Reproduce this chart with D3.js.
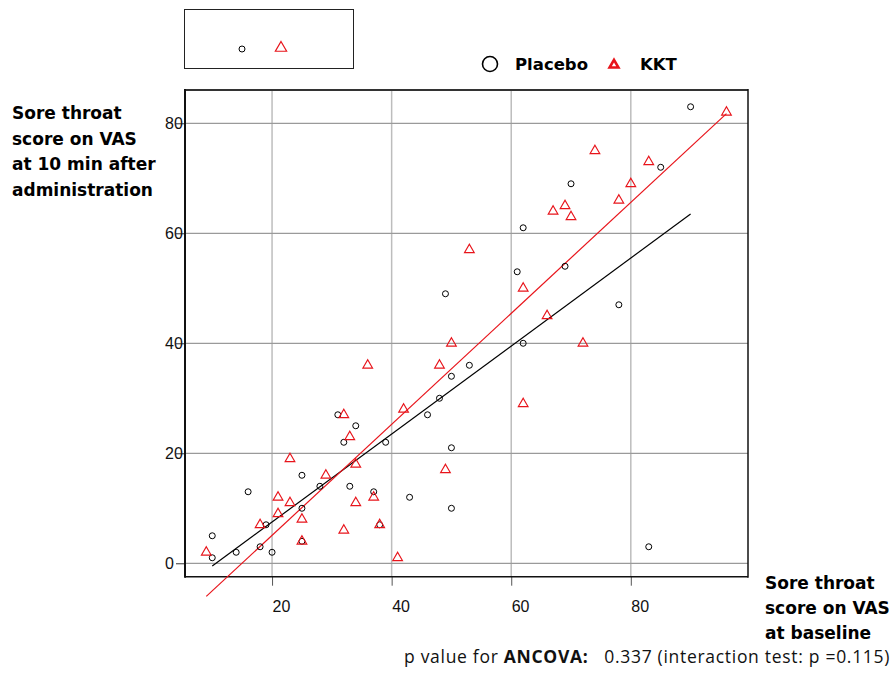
<!DOCTYPE html>
<html>
<head>
<meta charset="utf-8">
<script src="https://cdn.jsdelivr.net/npm/d3@7"></script>
<style>
  body { margin: 0; background: #fff; }
  svg { display: block; }
</style>
</head>
<body>
<script>
// Placebo: baseline VAS vs VAS at 10 min
var placeboX = [90, 85, 70, 62, 69, 61, 49, 78, 62, 53, 50, 48, 46, 50, 43, 50, 83, 31, 34, 32, 39, 25, 28, 33, 16, 37, 25, 19, 38, 10, 25, 18, 14, 20, 10];
var placeboY = [83, 72, 69, 61, 54, 53, 49, 47, 40, 36, 34, 30, 27, 21, 12, 10, 3, 27, 25, 22, 22, 16, 14, 14, 13, 13, 10, 7, 7, 5, 4, 3, 2, 2, 1];
// KKT
var kktX = [96, 74, 83, 80, 78, 67, 69, 70, 53, 62, 66, 50, 72, 48, 62, 49, 36, 42, 32, 33, 34, 23, 29, 37, 21, 23, 34, 21, 25, 18, 38, 32, 25, 9, 41];
var kktY = [82, 75, 73, 69, 66, 64, 65, 63, 57, 50, 45, 40, 40, 36, 29, 17, 36, 28, 27, 23, 18, 19, 16, 12, 12, 11, 11, 9, 8, 7, 7, 6, 4, 2, 1];
// fitted lines: [intercept, slope]
var placeboFit = [-8.5, 0.8];
var kktFit = [-15.1, 1.009];

var xTicks = [20, 40, 60, 80];
var yTicks = [0, 20, 40, 60, 80];

(function() {
    var RED = "#e8141b";

    var svg = d3.select("body").append("svg")
        .attr("width", 893)
        .attr("height", 675);

    svg.append("rect").attr("width", 893).attr("height", 675).attr("fill", "#fff");

    var plotLeft = 185, plotRight = 748, plotTop = 90, plotBottom = 576.7;

    var x = d3.scaleLinear().domain([5.44, 99.6]).range([plotLeft, plotRight]);
    var y = d3.scaleLinear().domain([-2.44, 86.05]).range([plotBottom, plotTop]);

    // grid
    svg.append("g").selectAll("line").data(xTicks).enter().append("line")
        .attr("x1", function(d) { return x(d); })
        .attr("x2", function(d) { return x(d); })
        .attr("y1", plotTop).attr("y2", plotBottom)
        .attr("stroke", "#bdbdbd").attr("stroke-width", 1.5);

    svg.append("g").selectAll("line").data(yTicks).enter().append("line")
        .attr("x1", plotLeft).attr("x2", plotRight)
        .attr("y1", function(d) { return y(d); })
        .attr("y2", function(d) { return y(d); })
        .attr("stroke", "#9a9a9a").attr("stroke-width", 1.2);

    // axes
    var xAxis = svg.append("g")
        .attr("transform", "translate(0," + plotBottom + ")")
        .call(d3.axisBottom(x).tickValues(xTicks).tickSize(9).tickSizeOuter(0));
    xAxis.select(".domain").remove();
    xAxis.selectAll("line").attr("stroke", "#555");
    xAxis.selectAll("text")
        .attr("text-anchor", "start")
        .attr("y", 24)
        .attr("font-family", "Liberation Sans, Arial, sans-serif")
        .attr("font-size", 16)
        .attr("fill", "#111");

    var yAxis = svg.append("g")
        .attr("transform", "translate(" + plotLeft + ",0)")
        .call(d3.axisLeft(y).tickValues(yTicks).tickSize(9).tickSizeOuter(0));
    yAxis.select(".domain").remove();
    yAxis.selectAll("line").attr("stroke", "#333");
    yAxis.selectAll("text")
        .attr("text-anchor", "start")
        .attr("x", -20)
        .attr("font-family", "Liberation Sans, Arial, sans-serif")
        .attr("font-size", 16)
        .attr("fill", "#111");

    // frame
    svg.append("line").attr("x1", plotLeft).attr("x2", plotRight).attr("y1", plotTop).attr("y2", plotTop)
        .attr("stroke", "#333").attr("stroke-width", 2.2);
    svg.append("line").attr("x1", plotLeft).attr("x2", plotLeft).attr("y1", plotTop - 1).attr("y2", plotBottom + 1)
        .attr("stroke", "#111").attr("stroke-width", 2);
    svg.append("line").attr("x1", plotRight).attr("x2", plotRight).attr("y1", plotTop - 1).attr("y2", plotBottom + 1)
        .attr("stroke", "#111").attr("stroke-width", 1.5);
    svg.append("line").attr("x1", plotLeft).attr("x2", plotRight).attr("y1", plotBottom).attr("y2", plotBottom)
        .attr("stroke", "#111").attr("stroke-width", 1.5);

    // regression lines
    function fitLine(xs, fit, color) {
        var x0 = d3.min(xs), x1 = d3.max(xs);
        svg.append("line")
            .attr("x1", x(x0)).attr("y1", y(fit[0] + fit[1] * x0))
            .attr("x2", x(x1)).attr("y2", y(fit[0] + fit[1] * x1))
            .attr("stroke", color).attr("stroke-width", 1.2);
    }
    fitLine(placeboX, placeboFit, "#000");
    fitLine(kktX, kktFit, RED);

    // points
    var tri = d3.symbol().type(d3.symbolTriangle).size(40);

    svg.append("g").selectAll("circle").data(placeboX).enter().append("circle")
        .attr("cx", function(d) { return x(d); })
        .attr("cy", function(d, i) { return y(placeboY[i]); })
        .attr("r", 3)
        .attr("fill", "none").attr("stroke", "#000").attr("stroke-width", 1);

    svg.append("g").selectAll("path").data(kktX).enter().append("path")
        .attr("d", tri)
        .attr("transform", function(d, i) { return "translate(" + x(d) + "," + y(kktY[i]) + ")"; })
        .attr("fill", "none").attr("stroke", RED).attr("stroke-width", 1.2);

    // legend box (top left)
    svg.append("rect").attr("x", 184.5).attr("y", 9.5).attr("width", 169).attr("height", 59)
        .attr("fill", "none").attr("stroke", "#222").attr("stroke-width", 1);
    svg.append("circle").attr("cx", 242).attr("cy", 49).attr("r", 3)
        .attr("fill", "none").attr("stroke", "#000");
    svg.append("path").attr("d", d3.symbol().type(d3.symbolTriangle).size(55))
        .attr("transform", "translate(281,48)")
        .attr("fill", "none").attr("stroke", RED).attr("stroke-width", 1.2);

    // legend (right)
    var boldFont = "DejaVu Sans, Verdana, sans-serif";
    svg.append("circle").attr("cx", 490).attr("cy", 64).attr("r", 7.5)
        .attr("fill", "none").attr("stroke", "#000").attr("stroke-width", 1.6);
    svg.append("text").attr("x", 515).attr("y", 70).text("Placebo")
        .attr("font-family", boldFont).attr("font-weight", "bold").attr("font-size", 16.5);
    svg.append("path").attr("d", d3.symbol().type(d3.symbolTriangle).size(34))
        .attr("transform", "translate(614,65)")
        .attr("fill", "none").attr("stroke", RED).attr("stroke-width", 2.6);
    svg.append("text").attr("x", 640).attr("y", 70).text("KKT")
        .attr("font-family", boldFont).attr("font-weight", "bold").attr("font-size", 16.5);

    // axis titles
    var yTitle = ["Sore throat", "score on VAS", "at 10 min after", "administration"];
    svg.append("g").selectAll("text").data(yTitle).enter().append("text")
        .attr("x", 12)
        .attr("y", function(d, i) { return 119 + i * 25.5; })
        .text(function(d) { return d; })
        .attr("font-family", boldFont).attr("font-weight", "bold").attr("font-size", 17);

    var xTitle = ["Sore throat", "score on VAS", "at baseline"];
    svg.append("g").selectAll("text").data(xTitle).enter().append("text")
        .attr("x", 765)
        .attr("y", function(d, i) { return 589 + i * 25; })
        .text(function(d) { return d; })
        .attr("font-family", boldFont).attr("font-weight", "bold").attr("font-size", 17);

    // p value note
    var note = svg.append("text")
        .attr("x", 404).attr("y", 663)
        .attr("font-family", "Open Sans, sans-serif").attr("font-size", 17.5)
        .attr("letter-spacing", 0.7)
        .attr("fill", "#111")
        .style("white-space", "pre");
    note.append("tspan").text("p value for ");
    note.append("tspan").attr("font-weight", "bold").text("ANCOVA:");
    note.append("tspan").text("   0.337 (interaction test: p =0.115)");
})();
</script>
</body>
</html>
